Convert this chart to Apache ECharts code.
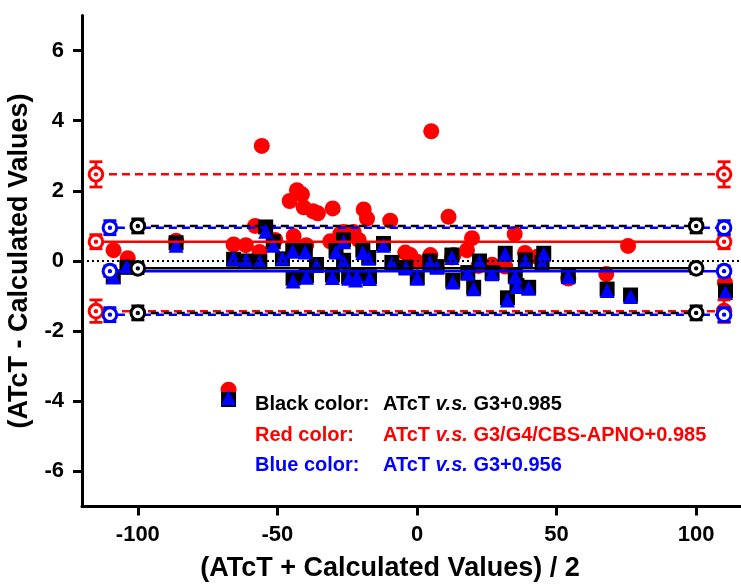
<!DOCTYPE html>
<html>
<head>
<meta charset="utf-8">
<script src="https://cdn.jsdelivr.net/npm/echarts@6/dist/echarts.min.js"></script>
<style>
  html, body { margin: 0; padding: 0; background: #fff; }
  #main { width: 741px; height: 587px; }
</style>
</head>
<body>
<div id="main"></div>
<script>
// tick labels
const xTicks = [-100, -50, 0, 50, 100];
const yTicks = [-6, -4, -2, 0, 2, 4, 6];

// [mean, difference] pairs
const redPoints = [
  [-108.7, 0.31], [-103.6, 0.08], [-86.3, 0.58], [-67.5, -3.67], [-65.7, 0.47],
  [-61.3, 0.45], [-58.0, 1.0], [-56.4, 0.26], [-55.6, 3.28], [-50.8, 0.6],
  [-45.6, 1.71], [-44.2, 0.71], [-43.0, 2.02], [-41.2, 1.9], [-40.6, 1.53],
  [-40.0, 0.4], [-39.7, 0.45], [-37.3, 1.42], [-35.5, 1.36], [-31.1, 0.56],
  [-30.2, 1.5], [-27.5, 0.77], [-26.3, 0.83], [-22.7, 0.83], [-20.9, 0.6],
  [-19.1, 1.47], [-17.9, 1.21], [-9.6, 1.15], [-4.2, 0.24], [-2.4, 0.17],
  [0.0, -0.02], [4.8, 0.17], [5.1, 3.7], [11.3, 1.26], [12.5, 0.1],
  [13.1, 0.17], [17.9, 0.31], [19.7, 0.65], [22.0, -0.14], [26.9, -0.11],
  [31.6, -0.16], [35.0, 0.77], [38.7, 0.23], [43.0, 0.12], [54.2, -0.5],
  [67.8, -0.37], [75.6, 0.43], [110.3, -0.62]
];
const blackPoints = [
  [-108.8, -0.45], [-103.9, -0.18], [-86.3, 0.52], [-67.5, -3.95], [-65.7, 0.05],
  [-61.2, 0.0], [-56.3, -0.02], [-54.2, 0.97], [-51.5, 0.55], [-48.2, 0.06],
  [-44.5, 0.36], [-44.4, -0.49], [-40.0, 0.3], [-39.6, -0.42], [-36.0, -0.1],
  [-30.3, -0.4], [-29.0, 0.3], [-26.3, 0.6], [-26.3, 0.02], [-24.5, -0.45],
  [-21.5, -0.42], [-19.4, 0.31], [-17.3, 0.1], [-17.0, -0.45], [-12.0, 0.5],
  [-9.0, -0.04], [-4.0, -0.18], [0.1, -0.47], [4.6, 0.0], [7.2, -0.16],
  [12.5, 0.17], [12.8, -0.55], [18.2, -0.33], [20.3, -0.75], [22.4, 0.0],
  [26.9, -0.33], [31.6, 0.22], [32.4, -1.05], [35.2, -0.42], [35.8, -0.7],
  [38.8, 0.03], [40.0, -0.75], [44.8, -0.05], [45.4, 0.22], [54.2, -0.42],
  [68.1, -0.8], [76.5, -0.97], [110.5, -0.85]
];
const bluePoints = [
  [-108.8, -0.45], [-103.9, -0.14], [-86.3, 0.45], [-67.5, -3.9], [-65.7, 0.08],
  [-61.2, 0.02], [-56.3, -0.02], [-54.2, 0.85], [-51.5, 0.45], [-48.2, 0.08],
  [-44.5, 0.28], [-44.4, -0.57], [-40.0, 0.26], [-39.6, -0.46], [-36.0, -0.13],
  [-30.3, -0.47], [-29.0, 0.26], [-26.3, 0.55], [-26.3, -0.02], [-24.5, -0.49],
  [-22.0, -0.54], [-21.5, -0.45], [-19.4, 0.24], [-17.3, 0.08], [-17.0, -0.5],
  [-12.0, 0.45], [-9.0, -0.07], [-4.0, -0.2], [0.1, -0.49], [4.6, -0.04],
  [7.2, -0.18], [12.5, 0.1], [12.8, -0.6], [18.2, -0.35], [20.3, -0.79],
  [22.4, -0.02], [26.9, -0.36], [31.6, 0.19], [32.4, -1.11], [35.2, -0.45],
  [35.8, -0.73], [38.8, 0.0], [40.0, -0.78], [44.8, -0.07], [45.4, 0.19],
  [54.2, -0.45], [68.1, -0.84], [76.5, -1.01], [110.5, -0.9]
];

// limits of agreement: upper, mean, lower (+ error bars), and where the lines start/end
const redLimits = [2.47, 0.55, -1.43];
const redErr = [0.36, 0.2, 0.32];
const redEnds = [-115, 110];
const blackLimits = [1.0, -0.21, -1.48];
const blackErr = [0.2, 0.15, 0.2];
const blackEnds = [-100, 100];
const blueLimits = [0.95, -0.29, -1.53];
const blueErr = [0.2, 0.15, 0.2];
const blueEnds = [-110, 110];

const FONT = '"Liberation Sans", Arial, sans-serif';

function limitLines(color, limits, ends, offset) {
  return limits.map((v, i) => ({
    type: 'line',
    z: 5,
    symbol: 'none',
    silent: true,
    data: [[ends[0], v], [ends[1], v]],
    lineStyle: {
      color: color,
      width: 2.5,
      type: i === 1 ? 'solid' : [8, 5],
      dashOffset: offset
    }
  }));
}

function limitMarkers(color, limits, err, ends) {
  const data = [];
  limits.forEach((v, i) => {
    ends.forEach(x => data.push([x, v, err[i]]));
  });
  return {
    type: 'custom',
    z: 6,
    silent: true,
    data: data,
    renderItem: function (params, api) {
      const x = api.value(0), y = api.value(1), e = api.value(2);
      const c = api.coord([x, y]);
      const t = api.coord([x, y + e]);
      const b = api.coord([x, y - e]);
      const st = { stroke: color, lineWidth: 2.8 };
      return {
        type: 'group',
        children: [
          { type: 'line', shape: { x1: c[0], y1: t[1], x2: c[0], y2: b[1] }, style: st },
          { type: 'line', shape: { x1: c[0] - 6.5, y1: t[1], x2: c[0] + 6.5, y2: t[1] }, style: st },
          { type: 'line', shape: { x1: c[0] - 6.5, y1: b[1], x2: c[0] + 6.5, y2: b[1] }, style: st },
          { type: 'circle', shape: { cx: c[0], cy: c[1], r: 6.8 }, style: { fill: '#fff', stroke: color, lineWidth: 3 } },
          { type: 'circle', shape: { cx: c[0], cy: c[1], r: 2.2 }, style: { fill: color } }
        ]
      };
    }
  };
}

function legendRow(y, color, label, rest) {
  const base = { fontSize: 20, fontWeight: 'bold', fontFamily: FONT, fill: color };
  return [
    { type: 'text', left: 255, top: y - 11, style: Object.assign({ text: label }, base) },
    {
      type: 'text', left: 383, top: y - 11,
      style: {
        text: '{a|ATcT }{i|v.s.}{a| ' + rest + '}',
        rich: {
          a: Object.assign({}, base, { color: color }),
          i: Object.assign({}, base, { color: color, fontStyle: 'italic' })
        }
      }
    }
  ];
}

const chart = echarts.init(document.getElementById('main'));
const option = {
  animation: false,
  backgroundColor: '#fff',
  grid: { left: 82, top: 15.5, width: 670, height: 491, outerBoundsMode: 'none', containLabel: false },
  xAxis: {
    type: 'value',
    min: -120,
    max: 120,
    name: '(ATcT + Calculated Values) / 2',
    nameLocation: 'middle',
    nameGap: 49,
    nameTextStyle: { fontSize: 27, fontWeight: 'bold', color: '#000', fontFamily: FONT, padding: [0, 54, 0, 0] },
    axisLine: { show: true, onZero: false, lineStyle: { color: '#000', width: 3 } },
    axisTick: { show: true, length: 9, customValues: xTicks, lineStyle: { color: '#000', width: 3 } },
    axisLabel: { customValues: xTicks, fontSize: 22, fontWeight: 'bold', color: '#000', fontFamily: FONT, margin: 17 },
    splitLine: { show: false }
  },
  yAxis: {
    type: 'value',
    min: -7,
    max: 7,
    name: '(ATcT - Calculated Values)',
    nameLocation: 'middle',
    nameRotate: 90,
    nameGap: 46,
    nameTextStyle: { fontSize: 27, fontWeight: 'bold', color: '#000', fontFamily: FONT },
    axisLine: { show: true, onZero: false, lineStyle: { color: '#000', width: 3 } },
    axisTick: { show: true, length: 9, customValues: yTicks, lineStyle: { color: '#000', width: 3 } },
    axisLabel: { customValues: yTicks, fontSize: 22, fontWeight: 'bold', color: '#000', fontFamily: FONT, margin: 18 },
    splitLine: { show: false }
  },
  graphic: [].concat(
    legendRow(405, '#000', 'Black color:', 'G3+0.985'),
    legendRow(436, '#ff0000', 'Red color:', 'G3/G4/CBS-APNO+0.985'),
    legendRow(466, '#0000ff', 'Blue color:', 'G3+0.956')
  ),
  series: [
    { type: 'scatter', z: 2, data: redPoints, symbol: 'circle', symbolSize: 16, itemStyle: { color: '#ff0000', opacity: 1 } },
    { type: 'scatter', z: 3, data: blackPoints, symbol: 'rect', symbolSize: 15, itemStyle: { color: '#000', opacity: 1 } },
    { type: 'scatter', z: 4, data: bluePoints, symbol: 'triangle', symbolSize: 15, itemStyle: { color: '#0000ff', opacity: 1 } },
    {
      type: 'line', z: 5, symbol: 'none', silent: true,
      data: [[-120, 0], [120, 0]],
      lineStyle: { color: '#000', width: 2, type: [2, 3] }
    }
  ].concat(
    limitLines('#ff0000', redLimits, redEnds, 0),
    limitLines('#000', blackLimits, blackEnds, 0),
    limitLines('#0000ff', blueLimits, blueEnds, 6),
    [
      limitMarkers('#ff0000', redLimits, redErr, redEnds),
      limitMarkers('#000', blackLimits, blackErr, blackEnds),
      limitMarkers('#0000ff', blueLimits, blueErr, blueEnds)
    ]
  )
};
chart.setOption(option);
</script>
</body>
</html>
